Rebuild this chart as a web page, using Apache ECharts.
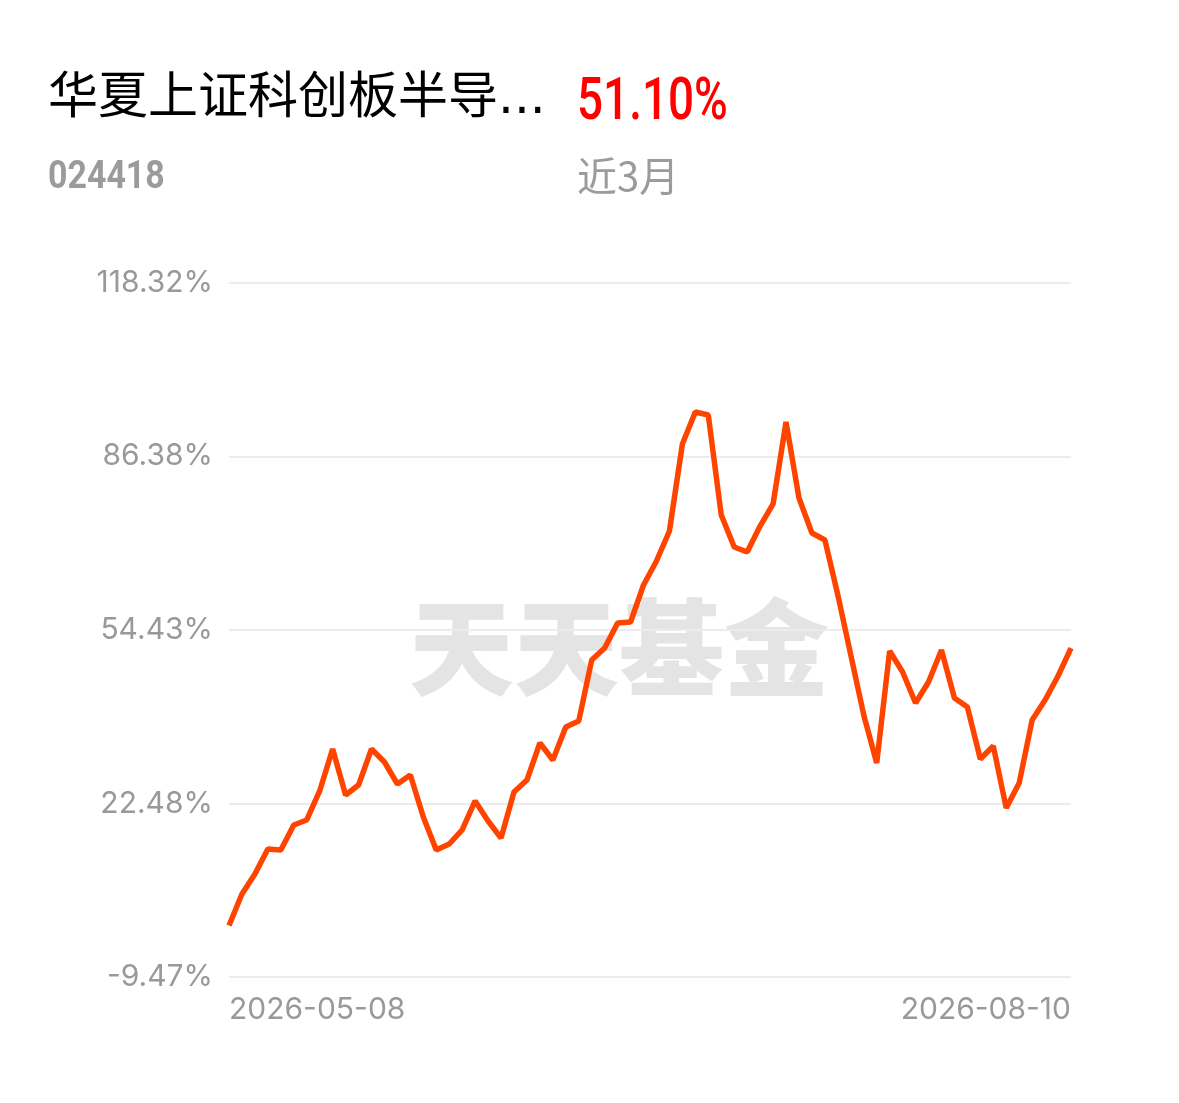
<!DOCTYPE html>
<html><head><meta charset="utf-8">
<script src="https://cdn.jsdelivr.net/npm/echarts@6/dist/echarts.min.js"></script>
<style>html,body{margin:0;padding:0;background:#fff;}#c{width:1179px;height:1103px;}</style>
</head><body><div id="c"></div>
<script>
const fundName = '华夏上证科创板半导...';
const fundCode = '024418';
const periodReturn = '51.10%';
const periodLabel = '近3月';
const watermark = '天天基金';

const dates = [
  '2026-05-08','2026-05-11','2026-05-12','2026-05-13','2026-05-14','2026-05-15',
  '2026-05-18','2026-05-19','2026-05-20','2026-05-21','2026-05-22',
  '2026-05-25','2026-05-26','2026-05-27','2026-05-28','2026-05-29',
  '2026-06-01','2026-06-02','2026-06-03','2026-06-04','2026-06-05',
  '2026-06-08','2026-06-09','2026-06-10','2026-06-11','2026-06-12',
  '2026-06-15','2026-06-16','2026-06-17','2026-06-18',
  '2026-06-22','2026-06-23','2026-06-24','2026-06-25','2026-06-26',
  '2026-06-29','2026-06-30','2026-07-01','2026-07-02','2026-07-03',
  '2026-07-06','2026-07-07','2026-07-08','2026-07-09','2026-07-10',
  '2026-07-13','2026-07-14','2026-07-15','2026-07-16','2026-07-17',
  '2026-07-20','2026-07-21','2026-07-22','2026-07-23','2026-07-24',
  '2026-07-27','2026-07-28','2026-07-29','2026-07-30','2026-07-31',
  '2026-08-03','2026-08-04','2026-08-05','2026-08-06','2026-08-07',
  '2026-08-10'
];

const returns = [
  0.00, 5.81, 9.49, 14.10, 13.91, 18.52, 19.44, 24.78, 32.51, 24.04,
  25.88, 32.51, 30.12, 26.07, 27.72, 19.99, 13.91, 15.02, 17.60, 22.94,
  19.25, 16.12, 24.59, 26.80, 33.62, 30.49, 36.56, 37.67, 48.90, 51.11,
  55.71, 55.90, 62.71, 67.13, 72.65, 88.67, 94.57, 94.01, 75.60, 69.71,
  68.79, 73.57, 77.63, 92.72, 78.73, 72.28, 71.00, 60.87, 49.82, 38.77,
  29.93, 50.56, 46.69, 40.98, 44.85, 50.74, 41.90, 40.24, 30.67, 33.06,
  21.65, 26.25, 37.85, 41.53, 45.95, 51.10
];

const yTickValues = [-9.47, 22.48, 54.43, 86.38, 118.32];
const yTickLabels = ['-9.47%', '22.48%', '54.43%', '86.38%', '118.32%'];

const chart = echarts.init(document.getElementById('c'), null, {renderer: 'canvas'});
const lastIdx = dates.length - 1;

chart.setOption({
  animation: false,
  backgroundColor: '#ffffff',
  grid: {left: 229, right: 108, top: 283, bottom: 126, containLabel: false},
  graphic: [
    {type: 'text', x: 48, y: 100, style: {text: fundName, font: '50px "DejaVu Sans", "Noto Sans CJK SC"', fill: '#000000', verticalAlign: 'middle', align: 'left'}},
    {type: 'text', x: 577, y: 104, scaleX: 0.765, style: {text: periodReturn, font: '500 60px Roboto', fill: '#ff0000', verticalAlign: 'middle', align: 'left'}},
    {type: 'text', x: 48, y: 178, scaleX: 0.87, style: {text: fundCode, font: 'bold 39px Roboto', fill: '#9b9b9b', verticalAlign: 'middle', align: 'left'}},
    {type: 'text', x: 577, y: 176, style: {text: periodLabel, font: '40px "Noto Sans CJK SC"', fill: '#9b9b9b', verticalAlign: 'middle', align: 'left'}},
    {type: 'text', x: 619, y: 647, z: -1, style: {text: watermark, font: '900 105px "Noto Sans CJK SC"', fill: '#e4e4e4', verticalAlign: 'middle', align: 'center'}}
  ],
  xAxis: {
    type: 'category',
    data: dates,
    boundaryGap: false,
    axisLine: {show: false},
    axisTick: {show: false},
    splitLine: {show: false},
    axisLabel: {
      interval: function (idx) { return idx === 0 || idx === lastIdx; },
      alignMinLabel: 'left',
      alignMaxLabel: 'right',
      margin: 18,
      color: '#999999',
      fontSize: 30,
      fontFamily: 'Inter'
    }
  },
  yAxis: {
    type: 'value',
    min: yTickValues[0],
    max: yTickValues[yTickValues.length - 1],
    axisLine: {show: false},
    axisTick: {show: false, customValues: yTickValues},
    splitLine: {show: true, lineStyle: {color: '#ececec', width: 2}},
    axisLabel: {
      customValues: yTickValues,
      margin: 16,
      color: '#999999',
      fontSize: 30,
      fontFamily: 'Inter',
      padding: [3, 0, 0, 0],
      formatter: function (v) {
        let best = 0;
        for (let i = 0; i < yTickValues.length; i++) {
          if (Math.abs(yTickValues[i] - v) < Math.abs(yTickValues[best] - v)) best = i;
        }
        return yTickLabels[best];
      }
    }
  },
  series: [{
    type: 'line',
    data: returns,
    showSymbol: false,
    symbol: 'none',
    lineStyle: {color: '#ff4400', width: 5.5},
    z: 3
  }]
});
</script>
</body></html>
